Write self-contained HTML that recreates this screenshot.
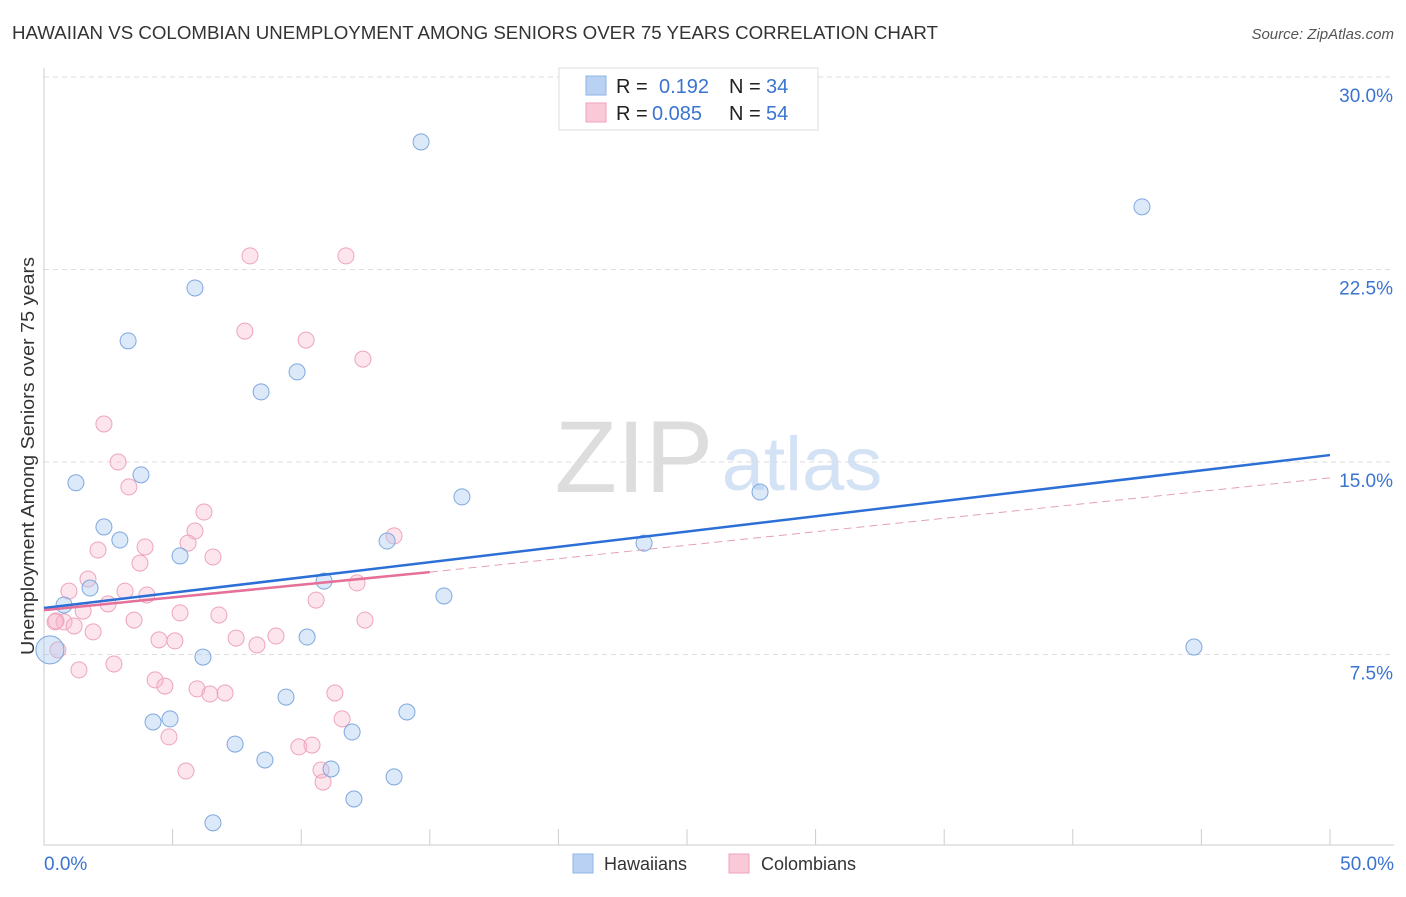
<!DOCTYPE html>
<html><head><meta charset="utf-8"><style>
body{margin:0;background:#fff;font-family:"Liberation Sans",sans-serif;}
svg text{font-family:"Liberation Sans",sans-serif;}
</style></head><body>
<svg id="chart" width="1406" height="892" xmlns="http://www.w3.org/2000/svg">
<text x="12" y="39" font-size="18" fill="#333" textLength="926" lengthAdjust="spacingAndGlyphs">HAWAIIAN VS COLOMBIAN UNEMPLOYMENT AMONG SENIORS OVER 75 YEARS CORRELATION CHART</text>
<text x="1394" y="39" font-size="15" fill="#555" font-style="italic" text-anchor="end">Source: ZipAtlas.com</text>
<text x="634" y="492" font-size="102" fill="#ddd" font-family="Liberation Serif" text-anchor="middle">ZIP</text>
<text x="802" y="490" font-size="76" fill="#d3e2f5" text-anchor="middle">atlas</text>
<text transform="translate(34,456) rotate(-90)" font-size="18" fill="#333" text-anchor="middle" textLength="398" lengthAdjust="spacingAndGlyphs">Unemployment Among Seniors over 75 years</text>
<g id="grid"></g><g id="marks"></g>
<g>
<rect x="559" y="68" width="259" height="62" fill="#fff" stroke="#ddd"/>
<rect x="586" y="76" width="20" height="19" fill="#b9d2f3" stroke="#8fb4e6"/>
<rect x="586" y="103" width="20" height="19" fill="#f9c9d8" stroke="#f0a2bb"/>
<text x="616" y="93" font-size="20" fill="#222">R = </text><text x="659" y="93" font-size="20" fill="#3a74d0">0.192</text>
<text x="729" y="93" font-size="20" fill="#222">N = </text><text x="766" y="93" font-size="20" fill="#3a74d0">34</text>
<text x="616" y="120" font-size="20" fill="#222">R = </text><text x="652" y="120" font-size="20" fill="#3a74d0">0.085</text>
<text x="729" y="120" font-size="20" fill="#222">N = </text><text x="766" y="120" font-size="20" fill="#3a74d0">54</text>
</g>
<g>
<rect x="573" y="854" width="20" height="19" fill="#b9d2f3" stroke="#8fb4e6"/>
<text x="604" y="870" font-size="18" fill="#333">Hawaiians</text>
<rect x="729" y="854" width="20" height="19" fill="#f9c9d8" stroke="#f0a2bb"/>
<text x="761" y="870" font-size="18" fill="#333">Colombians</text>
</g>
</svg>
<script>
const yTicks=[7.5,15,22.5,30];
const yTickLabels=["7.5%","15.0%","22.5%","30.0%"];
const xTickVals=[0,5,10,15,20,25,30,35,40,45,50];
const hawX=[14.66,42.69,5.87,3.27,9.84,8.44,3.77,1.24,16.25,27.84,2.33,2.95,13.34,23.33,5.29,10.89,1.79,15.55,0.78,10.23,6.18,44.71,9.41,4.90,4.24,14.11,11.98,7.43,8.59,11.16,13.61,12.05,6.57,0.23];
const hawY=[27.47,24.94,21.78,19.72,18.51,17.73,14.50,14.19,13.64,13.83,12.47,11.96,11.92,11.84,11.34,10.36,10.09,9.78,9.43,8.18,7.40,7.79,5.84,4.99,4.87,5.26,4.48,4.01,3.39,3.04,2.73,1.87,0.94,7.68];
const colX=[8.01,11.74,7.81,10.19,12.40,2.33,2.88,3.30,6.22,5.87,13.61,5.60,3.93,2.10,6.57,3.73,1.71,0.97,3.15,4.00,12.17,2.49,1.52,5.29,10.58,6.80,0.47,0.78,1.17,3.50,12.48,1.91,4.47,5.09,7.47,9.02,8.28,0.54,2.72,1.36,4.32,4.70,5.95,6.45,7.04,11.31,11.59,4.86,9.91,10.42,5.52,10.77,10.85,0.43];
const colY=[23.03,23.03,20.10,19.75,19.01,16.48,15.00,14.03,13.05,12.31,12.12,11.84,11.69,11.57,11.30,11.06,10.44,9.97,9.97,9.82,10.29,9.47,9.19,9.12,9.62,9.04,8.81,8.77,8.61,8.84,8.84,8.38,8.07,8.03,8.14,8.22,7.87,7.68,7.13,6.90,6.51,6.27,6.16,5.96,6.00,6.00,4.99,4.29,3.90,3.97,2.96,3.00,2.53,8.77];
const hawTrend=[9.31,15.27];
const colTrend=[9.23,10.71,14.38];
const X=v=>44+v*25.72, Y=v=>847-v*25.667;
const NS="http://www.w3.org/2000/svg";
function mk(p,t,a){const e=document.createElementNS(NS,t);for(const k in a)e.setAttribute(k,a[k]);p.appendChild(e);return e;}
const g=document.getElementById('grid'),m=document.getElementById('marks');
yTicks.forEach((v,i)=>{
 const l=mk(g,'line',{x1:44,x2:1394,y1:Y(v),y2:Y(v),stroke:'#ddd','stroke-dasharray':'5,4'});
 
 
 const t=mk(g,'text',{x:1393,y:Y(v)+25,'font-size':19,fill:'#3a74d0','text-anchor':'end'});
 t.textContent=yTickLabels[i];
 
 
});
const ax=mk(g,'path',{d:'M44,68V845H1394',stroke:'#ccc',fill:'none'});


xTickVals.slice(1).forEach(v=>{
 const l=mk(g,'line',{x1:X(v),x2:X(v),y1:829,y2:845,stroke:'#ccc'});
 
 
});
const t0=mk(g,'text',{x:44,y:870,'font-size':19,fill:'#3a74d0'});t0.textContent='0.0%';


const t1=mk(g,'text',{x:1394,y:870,'font-size':19,fill:'#3a74d0','text-anchor':'end'});t1.textContent='50.0%';


colX.forEach((x,i)=>{
 const c=mk(m,'circle',{cx:X(x),cy:Y(colY[i]),r:8,fill:'rgba(247,180,202,0.35)',stroke:'#eea4bc','stroke-width':1});
 
 
});
hawX.forEach((x,i)=>{
 const big=i===hawX.length-1;
 const c=mk(m,'circle',{cx:X(x),cy:Y(hawY[i]),r:big?14:8,fill:'rgba(168,199,240,0.4)',stroke:'#7fa8de','stroke-width':1});
 
 
});
const lb=mk(m,'line',{x1:X(0),y1:Y(hawTrend[0]),x2:X(50),y2:Y(hawTrend[1]),stroke:'#2c6fd6','stroke-width':2.5});


const lp=mk(m,'line',{x1:X(0),y1:Y(colTrend[0]),x2:X(15),y2:Y(colTrend[1]),stroke:'#e5709a','stroke-width':2.5});


const ld=mk(m,'line',{x1:X(15),y1:Y(colTrend[1]),x2:X(50),y2:Y(colTrend[2]),stroke:'#e5a0b8','stroke-width':1,'stroke-dasharray':'8,5'});


</script>
</body></html>
